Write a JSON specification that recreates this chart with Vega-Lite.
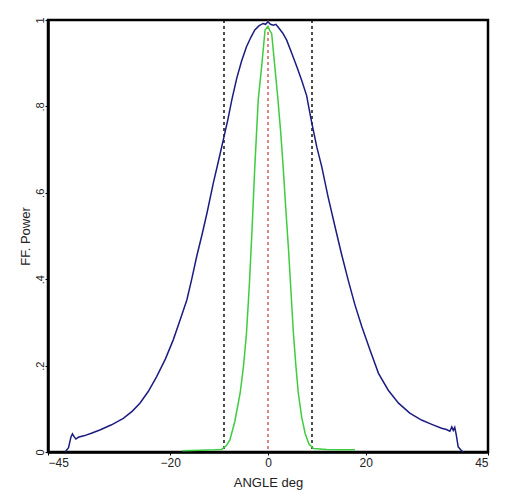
{
  "$schema": "https://vega.github.io/schema/vega-lite/v6.json",
  "width": 440,
  "height": 432,
  "autosize": "none",
  "padding": {"left": 48, "top": 20, "right": 21, "bottom": 47},
  "background": "white",
  "config": {
    "view": {"stroke": "black", "strokeWidth": 2.5},
    "axis": {"grid": false, "domainColor": "black", "domainWidth": 2.5, "tickColor": "black", "tickWidth": 1, "tickSize": 3, "labelFont": "Liberation Sans", "titleFont": "Liberation Sans", "labelColor": "#222", "titleColor": "#222", "labelFontSize": 12, "titleFontSize": 13, "titleFontWeight": "normal"}
  },
  "datasets": {
    "curves": [
      {"series": "blue", "angle": -41.5, "power": 0},
      {"series": "blue", "angle": -40.8, "power": 0.01},
      {"series": "blue", "angle": -40.3, "power": 0.035},
      {"series": "blue", "angle": -40.0, "power": 0.042},
      {"series": "blue", "angle": -39.7, "power": 0.036},
      {"series": "blue", "angle": -39.3, "power": 0.03},
      {"series": "blue", "angle": -38.8, "power": 0.034},
      {"series": "blue", "angle": -37.5, "power": 0.038},
      {"series": "blue", "angle": -36, "power": 0.044},
      {"series": "blue", "angle": -34.4, "power": 0.051},
      {"series": "blue", "angle": -32, "power": 0.063},
      {"series": "blue", "angle": -29.6, "power": 0.078},
      {"series": "blue", "angle": -27.8, "power": 0.094},
      {"series": "blue", "angle": -26.2, "power": 0.113},
      {"series": "blue", "angle": -24.5, "power": 0.14},
      {"series": "blue", "angle": -22.8, "power": 0.174},
      {"series": "blue", "angle": -21, "power": 0.215},
      {"series": "blue", "angle": -19.4, "power": 0.259},
      {"series": "blue", "angle": -18, "power": 0.305},
      {"series": "blue", "angle": -16.6, "power": 0.352},
      {"series": "blue", "angle": -15.6, "power": 0.4},
      {"series": "blue", "angle": -14.6, "power": 0.452},
      {"series": "blue", "angle": -13.5, "power": 0.503},
      {"series": "blue", "angle": -12.5, "power": 0.552},
      {"series": "blue", "angle": -11.2, "power": 0.622},
      {"series": "blue", "angle": -10, "power": 0.68},
      {"series": "blue", "angle": -9.1, "power": 0.725},
      {"series": "blue", "angle": -8.2, "power": 0.77},
      {"series": "blue", "angle": -7.4, "power": 0.815},
      {"series": "blue", "angle": -6.4, "power": 0.865},
      {"series": "blue", "angle": -5.4, "power": 0.905},
      {"series": "blue", "angle": -4.4, "power": 0.938},
      {"series": "blue", "angle": -3.5, "power": 0.96},
      {"series": "blue", "angle": -2.7, "power": 0.977},
      {"series": "blue", "angle": -1.8, "power": 0.987},
      {"series": "blue", "angle": -1.0, "power": 0.992},
      {"series": "blue", "angle": -0.5, "power": 0.99},
      {"series": "blue", "angle": 0, "power": 0.996},
      {"series": "blue", "angle": 0.5, "power": 0.99},
      {"series": "blue", "angle": 1.1, "power": 0.988},
      {"series": "blue", "angle": 1.6, "power": 0.99},
      {"series": "blue", "angle": 2.1, "power": 0.983},
      {"series": "blue", "angle": 3.0, "power": 0.97},
      {"series": "blue", "angle": 3.8, "power": 0.954},
      {"series": "blue", "angle": 4.8, "power": 0.925},
      {"series": "blue", "angle": 5.9, "power": 0.892},
      {"series": "blue", "angle": 6.9, "power": 0.86},
      {"series": "blue", "angle": 7.9, "power": 0.825},
      {"series": "blue", "angle": 8.9, "power": 0.765},
      {"series": "blue", "angle": 10, "power": 0.705},
      {"series": "blue", "angle": 11.0, "power": 0.66},
      {"series": "blue", "angle": 12.3, "power": 0.59},
      {"series": "blue", "angle": 13.7, "power": 0.522},
      {"series": "blue", "angle": 15, "power": 0.46},
      {"series": "blue", "angle": 16.4, "power": 0.398},
      {"series": "blue", "angle": 17.8, "power": 0.34},
      {"series": "blue", "angle": 19.2, "power": 0.29},
      {"series": "blue", "angle": 20.9, "power": 0.235},
      {"series": "blue", "angle": 22.6, "power": 0.182},
      {"series": "blue", "angle": 24.6, "power": 0.143},
      {"series": "blue", "angle": 26.7, "power": 0.113},
      {"series": "blue", "angle": 29, "power": 0.09},
      {"series": "blue", "angle": 31.4, "power": 0.074},
      {"series": "blue", "angle": 33.5, "power": 0.064},
      {"series": "blue", "angle": 35.5, "power": 0.055},
      {"series": "blue", "angle": 36.5, "power": 0.052},
      {"series": "blue", "angle": 37.2, "power": 0.048},
      {"series": "blue", "angle": 37.6, "power": 0.058},
      {"series": "blue", "angle": 37.9, "power": 0.05},
      {"series": "blue", "angle": 38.2, "power": 0.057},
      {"series": "blue", "angle": 38.5, "power": 0.04},
      {"series": "blue", "angle": 38.9, "power": 0.012},
      {"series": "blue", "angle": 39.5, "power": 0.004},
      {"series": "blue", "angle": 40.0, "power": 0},
      {"series": "green", "angle": -17.5, "power": 0.003},
      {"series": "green", "angle": -14, "power": 0.004},
      {"series": "green", "angle": -11, "power": 0.005},
      {"series": "green", "angle": -9.5, "power": 0.006},
      {"series": "green", "angle": -8.5, "power": 0.015},
      {"series": "green", "angle": -7.8, "power": 0.028},
      {"series": "green", "angle": -6.8, "power": 0.07},
      {"series": "green", "angle": -5.7, "power": 0.136},
      {"series": "green", "angle": -5.0, "power": 0.2},
      {"series": "green", "angle": -4.4, "power": 0.275},
      {"series": "green", "angle": -3.8, "power": 0.39},
      {"series": "green", "angle": -3.3, "power": 0.506},
      {"series": "green", "angle": -2.7, "power": 0.66},
      {"series": "green", "angle": -2.0, "power": 0.815},
      {"series": "green", "angle": -1.3, "power": 0.892},
      {"series": "green", "angle": -0.6, "power": 0.977},
      {"series": "green", "angle": 0, "power": 0.985},
      {"series": "green", "angle": 0.4, "power": 0.975},
      {"series": "green", "angle": 0.75, "power": 0.969},
      {"series": "green", "angle": 1.4, "power": 0.892},
      {"series": "green", "angle": 2.0, "power": 0.82},
      {"series": "green", "angle": 2.6, "power": 0.74},
      {"series": "green", "angle": 3.1, "power": 0.66},
      {"series": "green", "angle": 3.6, "power": 0.57},
      {"series": "green", "angle": 4.2, "power": 0.468},
      {"series": "green", "angle": 5.2, "power": 0.275},
      {"series": "green", "angle": 5.7, "power": 0.2},
      {"series": "green", "angle": 6.2, "power": 0.136},
      {"series": "green", "angle": 6.9, "power": 0.08},
      {"series": "green", "angle": 7.6, "power": 0.043},
      {"series": "green", "angle": 8.4, "power": 0.018},
      {"series": "green", "angle": 9.3, "power": 0.008},
      {"series": "green", "angle": 12, "power": 0.006},
      {"series": "green", "angle": 15, "power": 0.005},
      {"series": "green", "angle": 17.8, "power": 0.005}
    ],
    "rules": [
      {"angle": -9, "kind": "limit"},
      {"angle": 9, "kind": "limit"},
      {"angle": 0, "kind": "center"}
    ]
  },
  "layer": [
    {
      "data": {"name": "rules"},
      "transform": [{"filter": "datum.kind == 'limit'"}],
      "mark": {"type": "rule", "strokeDash": [3, 3], "strokeWidth": 1.5, "color": "#111111"},
      "encoding": {
        "x": {"field": "angle", "type": "quantitative", "scale": {"domain": [-45, 45]}}
      }
    },
    {
      "data": {"name": "rules"},
      "transform": [{"filter": "datum.kind == 'center'"}],
      "mark": {"type": "rule", "strokeDash": [3, 3], "strokeWidth": 1.2, "color": "#cc3333"},
      "encoding": {
        "x": {"field": "angle", "type": "quantitative", "scale": {"domain": [-45, 45]}}
      }
    },
    {
      "data": {"name": "curves"},
      "transform": [{"filter": "datum.series == 'green'"}],
      "mark": {"type": "line", "strokeWidth": 1.5, "clip": true, "color": "#3fcc3f"},
      "encoding": {
        "x": {"field": "angle", "type": "quantitative", "scale": {"domain": [-45, 45], "nice": false}},
        "y": {"field": "power", "type": "quantitative", "scale": {"domain": [0, 1], "nice": false}},
        "order": {"field": "angle", "type": "quantitative"}
      }
    },
    {
      "data": {"name": "curves"},
      "transform": [{"filter": "datum.series == 'blue'"}],
      "mark": {"type": "line", "strokeWidth": 1.5, "clip": true, "color": "#1c1c80"},
      "encoding": {
        "x": {"field": "angle", "type": "quantitative", "scale": {"domain": [-45, 45], "nice": false},
          "axis": {"values": [-45, -20, 0, 20, 45], "title": "ANGLE deg", "titlePadding": 8, "labelPadding": 2}},
        "y": {"field": "power", "type": "quantitative", "scale": {"domain": [0, 1], "nice": false},
          "axis": {"values": [0, 0.2, 0.4, 0.6, 0.8, 1], "labelExpr": "replace(format(datum.value, '~g'), '0.', '.')", "labelAngle": -90, "labelAlign": "center", "labelBaseline": "bottom", "labelPadding": 0, "labelFontSize": 11, "title": "FF. Power", "titlePadding": 2}},
        "order": {"field": "angle", "type": "quantitative"}
      }
    }
  ]
}
